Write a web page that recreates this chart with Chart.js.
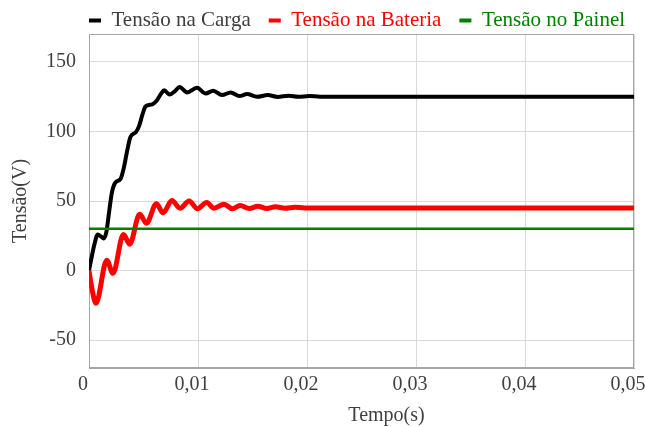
<!DOCTYPE html>
<html>
<head>
<meta charset="utf-8">
<script src="https://cdn.jsdelivr.net/npm/chart.js@4.4.1/dist/chart.umd.min.js"></script>
<style>
  html, body { margin: 0; padding: 0; background: #fff; }
</style>
</head>
<body>
<canvas id="grafico" width="645" height="427"></canvas>
<script>
// tempo (s) e tensão (V)
var tempoCarga  = [0, 0.0005, 0.0008, 0.0011, 0.00135, 0.0016, 0.00186, 0.0021, 0.0024, 0.0029, 0.0032, 0.0035, 0.0038, 0.0043, 0.0046, 0.0049, 0.0052, 0.0058, 0.0062, 0.0066, 0.0069, 0.0074, 0.0079, 0.0083, 0.0090, 0.0099, 0.0107, 0.0114, 0.0122, 0.0130, 0.0138, 0.0145, 0.0154, 0.0164, 0.0173, 0.0183, 0.0192, 0.0202, 0.0212, 0.05];
var tensaoCarga = [0, 19, 26, 24.5, 23, 28, 43, 56, 63, 66, 74, 86, 96, 99.5, 104, 112, 118, 119.5, 122, 127, 129.5, 126.5, 129, 132, 128, 131.3, 127.3, 129.2, 126.1, 128, 125.4, 126.8, 124.9, 126.1, 124.8, 125.6, 124.9, 125.4, 125, 125];

var tempoBateria  = [0, 0.0002, 0.00064, 0.00163, 0.0022, 0.00316, 0.00373, 0.00465, 0.00527, 0.00618, 0.0068, 0.0076, 0.00836, 0.00918, 0.00995, 0.0108, 0.01147, 0.01239, 0.01316, 0.01386, 0.0147, 0.0155, 0.0163, 0.0171, 0.0180, 0.0189, 0.0198, 0.05];
var tensaoBateria = [0, -10, -23.5, 7.5, -2, 26, 19, 40.5, 34, 48, 41.5, 50.3, 44.8, 50, 44.4, 49, 44.8, 47.7, 44.4, 46.8, 44.6, 46.2, 44.7, 45.8, 44.8, 45.5, 45, 45];

var tempoPainel  = [0, 0.05];
var tensaoPainel = [30, 30];

var ticksTempo  = [0, 0.01, 0.02, 0.03, 0.04, 0.05];
var ticksTensao = [-50, 0, 50, 100, 150];

function pontos(xs, ys) {
  return xs.map(function (x, i) { return { x: x, y: ys[i] }; });
}

Chart.defaults.font.family = "'Liberation Serif', 'Times New Roman', serif";
Chart.defaults.color = '#404040';

var moldura = {
  id: 'moldura',
  afterLayout: function (chart) {
    var lg = chart.legend;
    var p = lg.options.labels.padding;
    lg.left = 89 - p;
    lg.right = chart.width + 200;
    lg.top = -8;
  },
  beforeDatasetsDraw: function (chart) {
    var a = chart.chartArea, c = chart.ctx;
    c.save();
    c.strokeStyle = '#a6a6a6';
    c.lineWidth = 1;
    c.strokeRect(Math.round(a.left) + 0.5, Math.round(a.top) + 0.5, Math.round(a.right - a.left) - 1, Math.round(a.bottom - a.top) - 1);
    c.restore();
  }
};

new Chart(document.getElementById('grafico'), {
  type: 'line',
  data: {
    datasets: [
      {
        label: 'Tensão na Carga',
        data: pontos(tempoCarga, tensaoCarga),
        borderColor: '#000000',
        backgroundColor: '#000000',
        borderWidth: 4,
        order: 2
      },
      {
        label: 'Tensão na Bateria',
        data: pontos(tempoBateria, tensaoBateria),
        borderColor: '#ff0000',
        backgroundColor: '#ff0000',
        borderWidth: 5,
        order: 1
      },
      {
        label: 'Tensão no Painel',
        data: pontos(tempoPainel, tensaoPainel),
        borderColor: '#008000',
        backgroundColor: '#008000',
        borderWidth: 2.5,
        order: 0
      }
    ]
  },
  options: {
    responsive: false,
    animation: false,
    cubicInterpolationMode: 'monotone',
    pointRadius: 0,
    layout: { padding: { left: 0, right: 11, top: -15, bottom: -1 } },
    plugins: {
      tooltip: { enabled: false },
      legend: {
        position: 'top',
        align: 'start',
        labels: {
          boxWidth: 12,
          boxHeight: 4,
          padding: 18,
          font: { size: 21 },
          sort: function (a, b) { return a.datasetIndex - b.datasetIndex; },
          generateLabels: function (chart) {
            var itens = Chart.defaults.plugins.legend.labels.generateLabels(chart);
            itens.forEach(function (it) {
              var ds = chart.data.datasets[it.datasetIndex];
              it.lineWidth = 0;
              it.fillStyle = ds.borderColor;
              it.fontColor = ds.borderColor === '#000000' ? '#404040' : ds.borderColor;
            });
            return itens;
          }
        }
      }
    },
    scales: {
      x: {
        type: 'linear',
        min: 0,
        max: 0.05,
        afterBuildTicks: function (axis) {
          axis.ticks = ticksTempo.map(function (v) { return { value: v }; });
        },
        afterFit: function (axis) { axis.paddingLeft = 0; axis.paddingRight = 0; },
        grid: { color: '#d9d9d9', drawTicks: false },
        border: { color: '#a6a6a6' },
        ticks: {
          padding: 5,
          labelOffset: -6,
          maxRotation: 0,
          font: { size: 20 },
          callback: function (v) { return v === 0 ? '0' : v.toFixed(2).replace('.', ','); }
        },
        title: {
          display: true,
          text: '          Tempo(s)',
          font: { size: 20 },
          padding: { top: 2, bottom: 0 }
        }
      },
      y: {
        min: -70,
        max: 170,
        afterBuildTicks: function (axis) {
          axis.ticks = ticksTensao.map(function (v) { return { value: v }; });
        },
        afterFit: function (axis) { axis.paddingTop = 0; axis.paddingBottom = 0; },
        grid: { color: '#d9d9d9', drawTicks: false },
        border: { color: '#a6a6a6' },
        ticks: {
          padding: 13,
          font: { size: 20 }
        },
        title: {
          display: true,
          text: 'Tensão(V)',
          font: { size: 20 },
          padding: { top: 9, bottom: 0 }
        }
      }
    }
  },
  plugins: [moldura]
});
</script>
</body>
</html>
